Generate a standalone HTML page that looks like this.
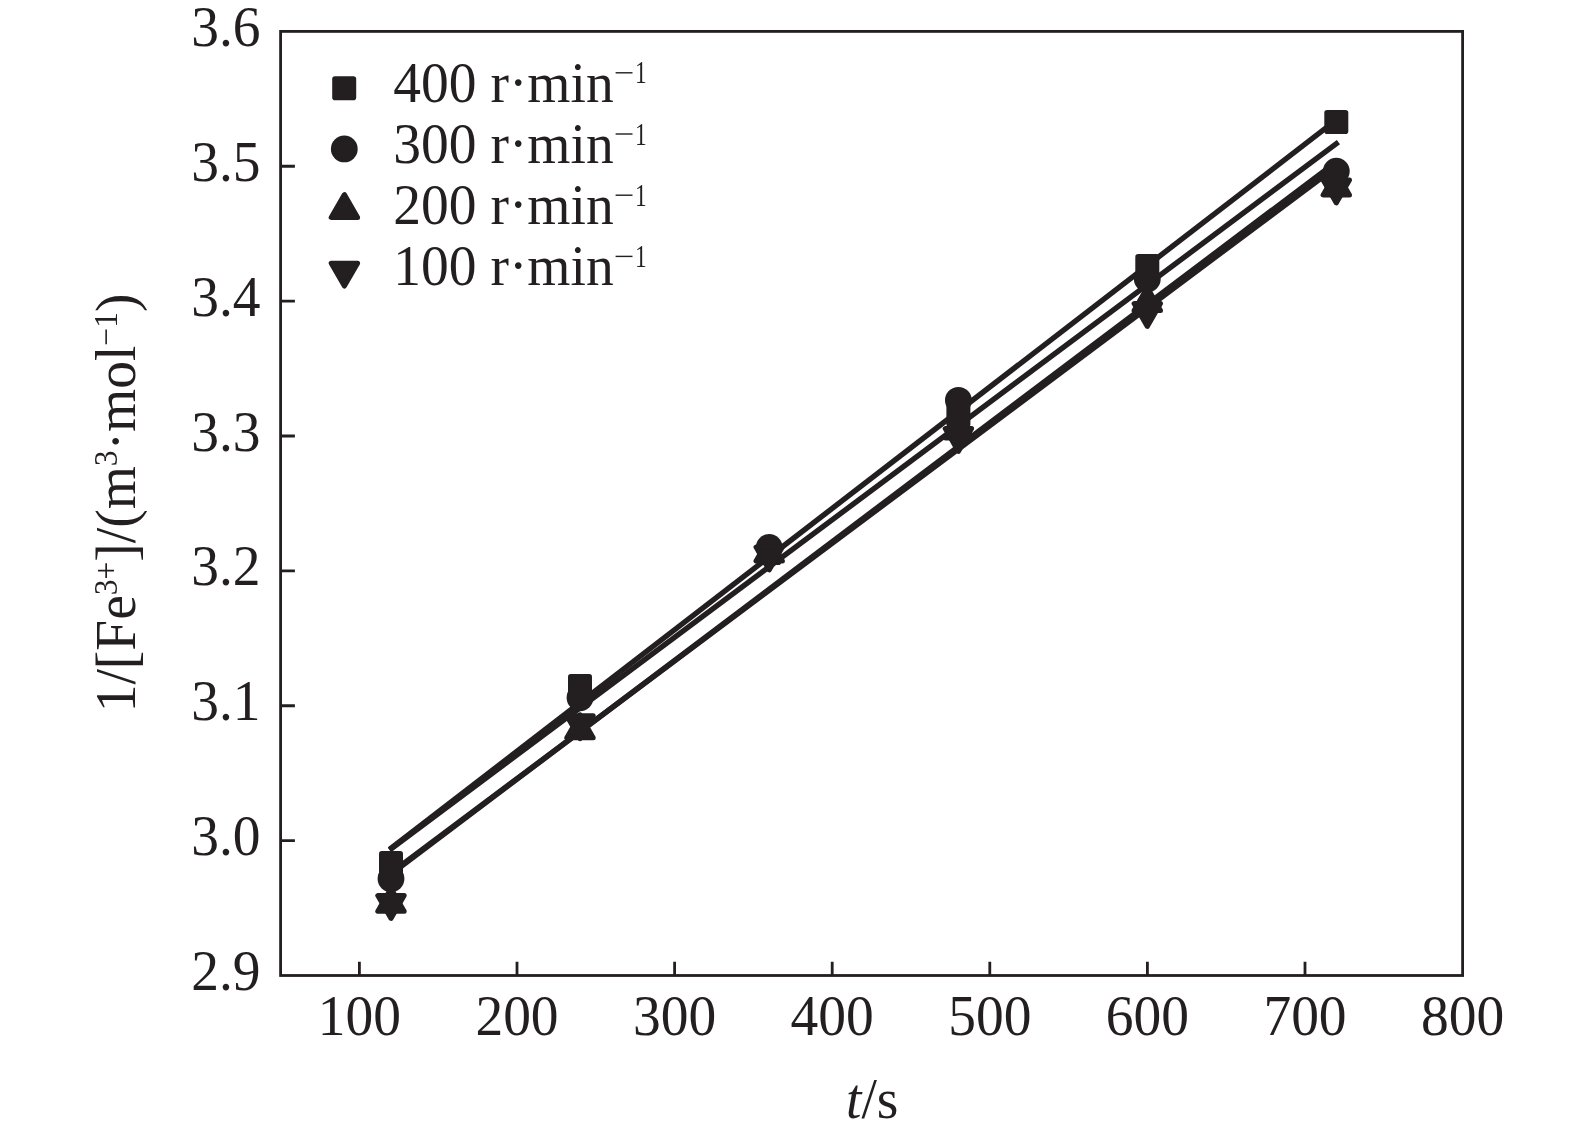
<!DOCTYPE html>
<html><head><meta charset="utf-8"><style>
html,body{margin:0;padding:0;background:#fff;overflow:hidden}
svg{display:block;will-change:transform}
text{font-family:"Liberation Serif",serif}
</style></head><body>
<svg width="1575" height="1134" viewBox="0 0 1575 1134" fill="#231f20" font-family="Liberation Serif, serif" font-size="55.5"><rect x="280.6" y="31.4" width="1182.00" height="944.10" fill="none" stroke="#231f20" stroke-width="2.8"/>
<path d="M359.40 975.5V961.80 M517.00 975.5V961.80 M674.60 975.5V961.80 M832.20 975.5V961.80 M989.80 975.5V961.80 M1147.40 975.5V961.80 M1305.00 975.5V961.80 M280.6 840.63H294.90 M280.6 705.76H294.90 M280.6 570.89H294.90 M280.6 436.01H294.90 M280.6 301.14H294.90 M280.6 166.27H294.90" stroke="#231f20" stroke-width="2.8" fill="none"/>
<text transform="translate(260.50 990.00) scale(1 1.045)" text-anchor="end">2.9</text>
<text transform="translate(260.50 855.13) scale(1 1.045)" text-anchor="end">3.0</text>
<text transform="translate(260.50 720.26) scale(1 1.045)" text-anchor="end">3.1</text>
<text transform="translate(260.50 585.39) scale(1 1.045)" text-anchor="end">3.2</text>
<text transform="translate(260.50 450.51) scale(1 1.045)" text-anchor="end">3.3</text>
<text transform="translate(260.50 315.64) scale(1 1.045)" text-anchor="end">3.4</text>
<text transform="translate(260.50 180.77) scale(1 1.045)" text-anchor="end">3.5</text>
<text transform="translate(260.50 45.90) scale(1 1.045)" text-anchor="end">3.6</text>
<text transform="translate(359.40 1035.00) scale(1 1.045)" text-anchor="middle">100</text>
<text transform="translate(517.00 1035.00) scale(1 1.045)" text-anchor="middle">200</text>
<text transform="translate(674.60 1035.00) scale(1 1.045)" text-anchor="middle">300</text>
<text transform="translate(832.20 1035.00) scale(1 1.045)" text-anchor="middle">400</text>
<text transform="translate(989.80 1035.00) scale(1 1.045)" text-anchor="middle">500</text>
<text transform="translate(1147.40 1035.00) scale(1 1.045)" text-anchor="middle">600</text>
<text transform="translate(1305.00 1035.00) scale(1 1.045)" text-anchor="middle">700</text>
<text transform="translate(1462.60 1035.00) scale(1 1.045)" text-anchor="middle">800</text>
<text transform="translate(846.00 1117.60) scale(1 1.045)" ><tspan font-style="italic">t</tspan>/s</text>
<text transform="translate(135.2 503) rotate(-90) scale(1 1.045)" text-anchor="middle">1/[Fe<tspan font-size="31.5" dy="-17.6">3+</tspan><tspan dy="17.6">]/(m</tspan><tspan font-size="31.5" dy="-17.6">3</tspan><tspan dy="17.6">·mol</tspan><tspan font-size="31.5" dy="-17.6">−1</tspan><tspan dy="17.6">)</tspan></text>
<text transform="translate(393.30 101.60) scale(1 1.045)" >400 r·min</text>
<rect x="615.6" y="72.10" width="16.9" height="1.4"/>
<text transform="translate(646.7 83.30) scale(0.78 1.045)" font-size="30" text-anchor="end">1</text>
<text transform="translate(393.30 162.80) scale(1 1.045)" >300 r·min</text>
<rect x="615.6" y="133.30" width="16.9" height="1.4"/>
<text transform="translate(646.7 144.50) scale(0.78 1.045)" font-size="30" text-anchor="end">1</text>
<text transform="translate(393.30 224.00) scale(1 1.045)" >200 r·min</text>
<rect x="615.6" y="194.50" width="16.9" height="1.4"/>
<text transform="translate(646.7 205.70) scale(0.78 1.045)" font-size="30" text-anchor="end">1</text>
<text transform="translate(393.30 285.20) scale(1 1.045)" >100 r·min</text>
<rect x="615.6" y="255.70" width="16.9" height="1.4"/>
<text transform="translate(646.7 266.90) scale(0.78 1.045)" font-size="30" text-anchor="end">1</text>
<rect x="332.20" y="76.20" width="24" height="24" rx="2.8"/>
<circle cx="344.30" cy="148.90" r="13.4"/>
<polygon points="331.20,217.45 357.60,217.45 344.40,194.55" stroke="#231f20" stroke-width="5" stroke-linejoin="round"/>
<polygon points="331.20,263.15 357.60,263.15 344.40,286.05" stroke="#231f20" stroke-width="5" stroke-linejoin="round"/>
<line x1="389.50" y1="849.50" x2="1338.00" y2="118.70" stroke="#231f20" stroke-width="5.4"/>
<line x1="389.50" y1="850.00" x2="1338.40" y2="142.20" stroke="#231f20" stroke-width="5.4"/>
<line x1="391.00" y1="872.79" x2="1336.60" y2="166.58" stroke="#231f20" stroke-width="5.4"/>
<line x1="391.00" y1="874.15" x2="1336.60" y2="161.57" stroke="#231f20" stroke-width="5.4"/>
<rect x="379.00" y="851.00" width="24" height="24" rx="2.8"/>
<circle cx="391.00" cy="878.80" r="13.4"/>
<polygon points="377.80,911.35 404.20,911.35 391.00,888.45" stroke="#231f20" stroke-width="5" stroke-linejoin="round"/>
<polygon points="377.80,895.55 404.20,895.55 391.00,918.45" stroke="#231f20" stroke-width="5" stroke-linejoin="round"/>
<rect x="568.00" y="674.00" width="24" height="24" rx="2.8"/>
<circle cx="580.00" cy="697.80" r="13.4"/>
<polygon points="566.80,737.65 593.20,737.65 580.00,714.75" stroke="#231f20" stroke-width="5" stroke-linejoin="round"/>
<polygon points="566.80,715.75 593.20,715.75 580.00,738.65" stroke="#231f20" stroke-width="5" stroke-linejoin="round"/>
<rect x="757.20" y="541.00" width="24" height="24" rx="2.8"/>
<circle cx="769.20" cy="547.40" r="13.4"/>
<polygon points="756.00,561.05 782.40,561.05 769.20,538.15" stroke="#231f20" stroke-width="5" stroke-linejoin="round"/>
<polygon points="756.00,547.05 782.40,547.05 769.20,569.95" stroke="#231f20" stroke-width="5" stroke-linejoin="round"/>
<rect x="946.40" y="403.00" width="24" height="24" rx="2.8"/>
<circle cx="958.40" cy="400.30" r="13.4"/>
<polygon points="945.20,437.95 971.60,437.95 958.40,415.05" stroke="#231f20" stroke-width="5" stroke-linejoin="round"/>
<polygon points="945.20,428.55 971.60,428.55 958.40,451.45" stroke="#231f20" stroke-width="5" stroke-linejoin="round"/>
<rect x="1135.30" y="254.10" width="24" height="24" rx="2.8"/>
<circle cx="1147.30" cy="278.90" r="13.4"/>
<polygon points="1134.10,310.45 1160.50,310.45 1147.30,287.55" stroke="#231f20" stroke-width="5" stroke-linejoin="round"/>
<polygon points="1134.10,303.55 1160.50,303.55 1147.30,326.45" stroke="#231f20" stroke-width="5" stroke-linejoin="round"/>
<rect x="1324.30" y="110.00" width="24" height="24" rx="2.8"/>
<circle cx="1336.30" cy="171.20" r="13.4"/>
<polygon points="1323.10,194.95 1349.50,194.95 1336.30,172.05" stroke="#231f20" stroke-width="5" stroke-linejoin="round"/>
<polygon points="1323.10,180.05 1349.50,180.05 1336.30,202.95" stroke="#231f20" stroke-width="5" stroke-linejoin="round"/></svg>
</body></html>
